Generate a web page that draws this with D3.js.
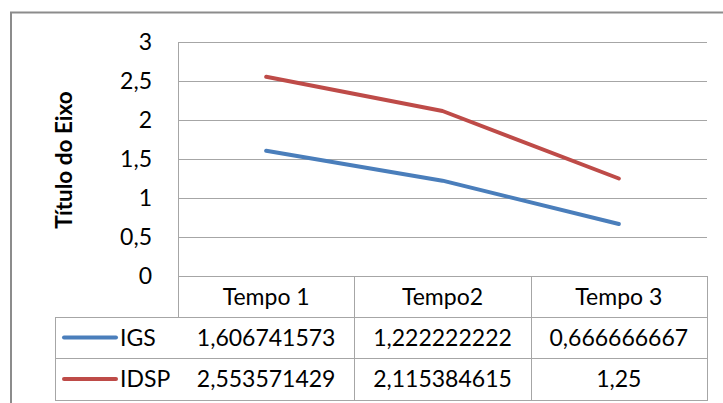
<!DOCTYPE html>
<html><head><meta charset="utf-8">
<script src="https://cdn.jsdelivr.net/npm/d3@7"></script>
<style>body{margin:0;background:#fff}svg{display:block}text{font-family:Lato,"Open Sans",sans-serif;fill:#000}</style>
</head><body><svg id="c" width="723" height="403"></svg>
<script>
const categories = ["Tempo 1", "Tempo2", "Tempo 3"];
const seriesNames = ["IGS", "IDSP"];
const igs = [1.606741573, 1.222222222, 0.666666667];
const idsp = [2.553571429, 2.115384615, 1.25];
const igsLabels = ["1,606741573", "1,222222222", "0,666666667"];
const idspLabels = ["2,553571429", "2,115384615", "1,25"];
const yTicks = [0, 0.5, 1, 1.5, 2, 2.5, 3];
const colors = ["#4a7ebb", "#be4b48"];

const svg = d3.select("#c");
const L = 178, R = 707, T = 42, B = 276;
const FS = 23;
const x = d3.scaleBand().domain(categories).range([L, R]);
const y = d3.scaleLinear().domain([0, 3]).range([B, T]);
const fmt = v => String(v).replace(".", ",");

// outer border
svg.append("rect").attr("x", 11).attr("y", 12.5).attr("width", 730).attr("height", 420)
  .attr("fill", "none").attr("stroke", "#8c8c8c").attr("stroke-width", 2);

// gridlines
svg.append("g").selectAll("line").data(yTicks).join("line")
  .attr("x1", L).attr("x2", R).attr("y1", d => Math.round(y(d)) + 0.5).attr("y2", d => Math.round(y(d)) + 0.5)
  .attr("stroke", "#a6a6a6").attr("stroke-width", 1);
// y axis line
svg.append("line").attr("x1", L + 0.5).attr("x2", L + 0.5).attr("y1", T).attr("y2", 317)
  .attr("stroke", "#a6a6a6");

// y labels
svg.append("g").selectAll("text").data(yTicks).join("text")
  .attr("x", 152).attr("y", d => y(d)).attr("dy", "0.35em").attr("text-anchor", "end")
  .attr("font-size", FS).text(d => fmt(d));

// axis title
svg.append("text").attr("transform", "translate(72,160) rotate(-90)")
  .attr("text-anchor", "middle").attr("font-size", 22.5).attr("font-weight", "bold").text("Título do Eixo");

// table
const rowsY = [276, 317, 358, 400];
const tg = svg.append("g").attr("stroke", "#a6a6a6").attr("stroke-width", 1);
tg.append("line").attr("x1", 55).attr("x2", R).attr("y1", 317.5).attr("y2", 317.5);
tg.append("line").attr("x1", 55).attr("x2", R).attr("y1", 358.5).attr("y2", 358.5);
tg.append("line").attr("x1", 55).attr("x2", R).attr("y1", 400.5).attr("y2", 400.5);
tg.append("line").attr("x1", 55.5).attr("x2", 55.5).attr("y1", 317).attr("y2", 401);
categories.forEach(c => {
  tg.append("line").attr("x1", Math.round(x(c) + x.bandwidth()) + 0.5).attr("x2", Math.round(x(c) + x.bandwidth()) + 0.5)
    .attr("y1", 276).attr("y2", 401);
});

// header text
svg.append("g").selectAll("text").data(categories).join("text")
  .attr("x", d => x(d) + x.bandwidth() / 2).attr("y", 297).attr("dy", "0.35em")
  .attr("text-anchor", "middle").attr("font-size", FS).text(d => d);

const labelRows = [igsLabels, idspLabels];
labelRows.forEach((labs, i) => {
  const cy = (rowsY[i + 1] + rowsY[i + 2]) / 2;
  svg.append("g").selectAll("text").data(labs).join("text")
    .attr("x", (d, j) => x(categories[j]) + x.bandwidth() / 2).attr("y", cy).attr("dy", "0.35em")
    .attr("text-anchor", "middle").attr("font-size", FS).text(d => d);
  svg.append("line").attr("x1", 64).attr("x2", 116).attr("y1", cy).attr("y2", cy)
    .attr("stroke", colors[i]).attr("stroke-width", 4).attr("stroke-linecap", "round");
  svg.append("text").attr("x", 120).attr("y", cy).attr("dy", "0.35em").attr("font-size", FS).text(seriesNames[i]);
});

// lines
const line = d3.line().x((d, i) => x(categories[i]) + x.bandwidth() / 2).y(d => y(d));
[igs, idsp].forEach((s, i) => {
  svg.append("path").datum(s).attr("d", line).attr("fill", "none")
    .attr("stroke", colors[i]).attr("stroke-width", 4).attr("stroke-linecap", "round").attr("stroke-linejoin", "round");
});
</script></body></html>
